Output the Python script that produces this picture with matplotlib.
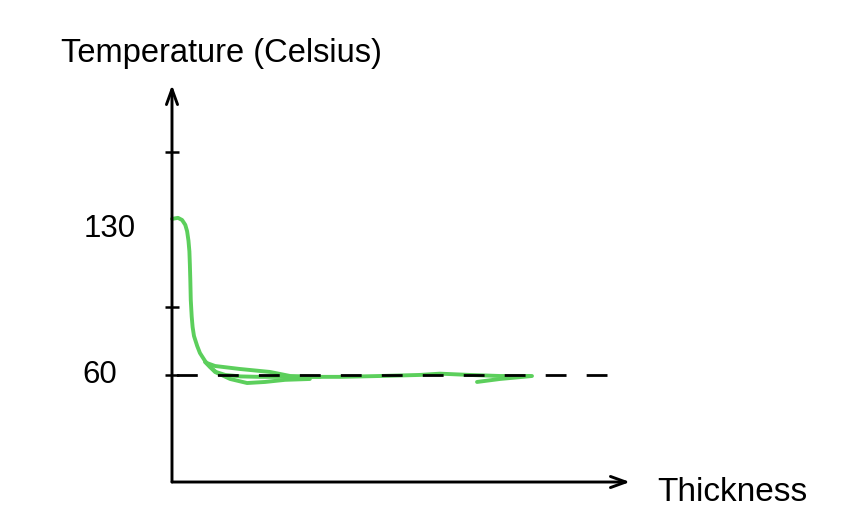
import matplotlib
matplotlib.use("Agg")
import matplotlib.pyplot as plt

plt.rcParams['font.family'] = ['Liberation Sans', 'DejaVu Sans']
plt.rcParams['lines.scale_dashes'] = False

# hand drawn curve, several overlapping strokes (thickness, temperature)
main_x = [0, 0.13, 0.22, 0.29, 0.33, 0.36, 0.38, 0.39, 0.40, 0.41, 0.43, 0.45,
          0.48, 0.55, 0.61, 0.72, 0.83, 0.96, 1.16, 1.50, 1.92, 2.79, 3.67,
          4.54, 5.41, 5.85, 6.50, 7.16, 7.82]
main_y = [133.3, 133.8, 132.8, 130.5, 127.5, 123.0, 118.0, 112.0, 104.6, 95.2,
          87.5, 82.5, 78.3, 73.6, 70.3, 66.6, 63.8, 61.4, 60.0, 59.3, 59.1,
          59.1, 59.1, 59.5, 60.0, 60.6, 60.0, 59.5, 59.5]
upper_x = [0.76, 0.94, 1.48, 2.14, 2.58, 3.23]
upper_y = [65.6, 64.2, 62.8, 61.4, 59.5, 59.1]
lower_x = [0.72, 0.94, 1.27, 1.64, 2.03, 2.47, 3.01]
lower_y = [66.1, 61.4, 58.1, 56.2, 56.7, 57.7, 58.1]
hook_x = [6.66, 7.16, 7.86]
hook_y = [56.7, 58.1, 59.5]

steady_temp = 60
steady_end = 9.5
minor_ticks = [60, 91.9, 164.7]

green = '#5ccf5c'

fig = plt.figure(figsize=(8.54, 5.28), dpi=100)
ax = fig.add_axes([0.2014, 0.0871, 0.5363, 0.7519])
ax.set_xlim(0, 10)
ax.set_ylim(9.7, 196.2)
for s in ax.spines.values():
    s.set_visible(False)

for xs, ys in [(main_x, main_y), (upper_x, upper_y), (lower_x, lower_y), (hook_x, hook_y)]:
    ax.plot(xs, ys, color=green, lw=2.8, solid_capstyle='round',
            solid_joinstyle='round', clip_on=False, zorder=2)

# dashed steady state line, drawn right to left so dashes line up at the end
ax.plot([steady_end, 0], [steady_temp, steady_temp], color='black', lw=2.0,
        dashes=(15, 14.5), zorder=3, clip_on=False)

# axes as arrows
arrow = dict(arrowstyle='->,head_length=1.1,head_width=0.4', color='black', lw=2.1,
             shrinkA=0, shrinkB=0)
ax.annotate('', xy=(0, 1), xytext=(0, 0), xycoords='axes fraction',
            textcoords='axes fraction', arrowprops=arrow)
ax.annotate('', xy=(1, 0), xytext=(0, 0), xycoords='axes fraction',
            textcoords='axes fraction', arrowprops=arrow)

ax.set_xticks([])
ax.set_yticks(minor_ticks)
ax.set_yticklabels([])
ax.tick_params(axis='y', direction='inout', length=10, width=1.8, color='black')

W, H = 854, 528
fig.text(61 / W, 1 - 62 / H, 'Temperature (Celsius)', fontsize=23.5, va='baseline')
fig.text(84 / W, 1 - 237 / H, '130', fontsize=22.5, va='baseline')
fig.text(82 / W, 1 - 383 / H, '60', fontsize=22.5, va='baseline')
fig.text(657 / W, 1 - 501 / H, 'Thickness', fontsize=24, va='baseline')

fig.savefig('out.png', dpi=100, facecolor='white')
